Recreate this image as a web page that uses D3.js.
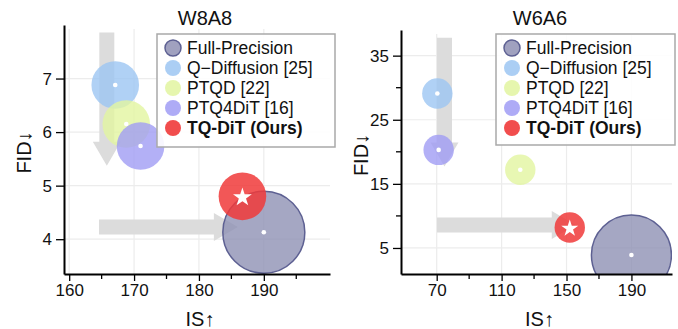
<!DOCTYPE html>
<html><head><meta charset="utf-8">
<script src="https://cdn.jsdelivr.net/npm/d3@7"></script>
<style>
html,body{margin:0;padding:0;background:#fff;}
svg{display:block;font-family:"Liberation Sans",Arial,sans-serif;}
</style></head>
<body><svg id="c" width="678" height="329"></svg>
<script>
const methods = ["Full-Precision", "Q\u2212Diffusion [25]", "PTQD [22]", "PTQ4DiT [16]", "TQ-DiT (Ours)"];
const colors = ["#8f91b4", "#9cc5f2", "#e2f5a0", "#a09cf4", "#f03a3a"];
const w8a8IS  = [190.0, 167.1, 168.8, 171.0, 186.7];
const w8a8FID = [4.13, 6.88, 6.15, 5.74, 4.80];
const w6a6IS  = [190.0, 70.4, 121.5, 71.2, 152.0];
const w6a6FID = [3.9, 29.1, 17.2, 20.3, 8.2];
const w8a8XTicks = [160, 170, 180, 190];
const w8a8XMinor = [165, 175, 185, 195];
const w8a8YTicks = [4, 5, 6, 7];
const w8a8YMinor = [];
const w6a6XTicks = [70, 110, 150, 190];
const w6a6XMinor = [90, 130, 170];
const w6a6YTicks = [5, 15, 25, 35];
const w6a6YMinor = [10, 20, 30];

const svg = d3.select("#c");

function panel(cfg) {
  const g = svg.append("g");
  const x = d3.scaleLinear().domain(cfg.xDomain).range([cfg.left, cfg.right]);
  const y = d3.scaleLinear().domain(cfg.yDomain).range([cfg.bottom, cfg.top]);
  const clipId = "clip" + cfg.id;
  svg.append("clipPath").attr("id", clipId).append("rect")
    .attr("x", cfg.left).attr("y", cfg.top).attr("width", cfg.right - cfg.left).attr("height", cfg.bottom - cfg.top);

  // grid
  g.append("g").selectAll("line.v").data(cfg.xTicks).join("line")
    .attr("x1", d => x(d)).attr("x2", d => x(d)).attr("y1", cfg.top + 4).attr("y2", cfg.bottom)
    .attr("stroke", "#ececec").attr("stroke-width", 1.2);
  g.append("g").selectAll("line.h").data(cfg.yTicks).join("line")
    .attr("y1", d => y(d)).attr("y2", d => y(d)).attr("x1", cfg.left).attr("x2", cfg.right)
    .attr("stroke", "#ececec").attr("stroke-width", 1.2);

  // arrows
  const sw = 15, hw = 28, hl = 24;
  const av = cfg.vArrow, ah = cfg.hArrow;
  const vx = x(av.x), vy0 = y(av.from), vy1 = y(av.to);
  g.append("path").attr("fill", "#dcdcdc")
    .attr("d", `M${vx - sw/2},${vy0} L${vx + sw/2},${vy0} L${vx + sw/2},${vy1 - hl} L${vx + hw/2},${vy1 - hl} L${vx},${vy1} L${vx - hw/2},${vy1 - hl} L${vx - sw/2},${vy1 - hl} Z`);
  const hy = y(ah.y), hx0 = x(ah.from), hx1 = x(ah.to);
  g.append("path").attr("fill", "#dcdcdc")
    .attr("d", `M${hx0},${hy - sw/2} L${hx1 - hl},${hy - sw/2} L${hx1 - hl},${hy - hw/2} L${hx1},${hy} L${hx1 - hl},${hy + hw/2} L${hx1 - hl},${hy + sw/2} L${hx0},${hy + sw/2} Z`);

  // circles
  const data = methods.map((m, i) => ({m, i, is: cfg.is[i], fid: cfg.fid[i]}));
  const cg = g.append("g").attr("clip-path", `url(#${clipId})`);
  cg.selectAll("circle.pt").data(data).join("circle")
    .attr("cx", d => x(d.is)).attr("cy", d => y(d.fid))
    .attr("r", d => d.i === 0 ? cfg.rFP : cfg.rQ)
    .attr("fill", d => colors[d.i])
    .attr("fill-opacity", d => d.i === 0 ? 0.8 : (d.i === 4 ? 0.85 : 0.8))
    .attr("stroke", d => d.i === 0 ? "#5d6092" : "none")
    .attr("stroke-width", 1.5);
  cg.selectAll("circle.dot").data(data.filter(d => d.i !== 4)).join("circle")
    .attr("cx", d => x(d.is)).attr("cy", d => y(d.fid)).attr("r", 2.3).attr("fill", "#fff");
  const star = d3.symbol().type(d3.symbolStar).size(cfg.starSize);
  cg.selectAll("path.star").data(data.filter(d => d.i === 4)).join("path")
    .attr("transform", d => `translate(${x(d.is)},${y(d.fid) + 1})`).attr("d", star()).attr("fill", "#fff");

  // axes
  const xa = g.append("g").attr("transform", `translate(0,${cfg.bottom})`);
  xa.call(d3.axisBottom(x).tickValues(cfg.xTicks).tickFormat(d3.format("d")).tickSize(7).tickSizeOuter(0).tickPadding(3));
  xa.append("g").selectAll("line").data(cfg.xMinor).join("line")
    .attr("x1", d => x(d)).attr("x2", d => x(d)).attr("y1", 0).attr("y2", 5).attr("stroke", "#000").attr("stroke-width", 1.3);
  const ya = g.append("g").attr("transform", `translate(${cfg.left},0)`);
  ya.call(d3.axisLeft(y).tickValues(cfg.yTicks).tickFormat(d3.format("d")).tickSize(8).tickSizeOuter(0).tickPadding(4));
  ya.append("g").selectAll("line").data(cfg.yMinor).join("line")
    .attr("y1", d => y(d)).attr("y2", d => y(d)).attr("x1", 0).attr("x2", -5).attr("stroke", "#000").attr("stroke-width", 1.3);
  [xa, ya].forEach(a => {
    a.attr("font-size", null).attr("font-family", null);
    a.select(".domain").attr("stroke", "#000").attr("stroke-width", 2);
    a.selectAll(".tick line").attr("stroke", "#000").attr("stroke-width", 1.3);
    a.selectAll(".tick text").style("font-size", "17px").attr("fill", "#111").style("font-family", "Liberation Sans, Arial, sans-serif");
  });

  // titles / labels
  g.append("text").attr("x", cfg.titleX).attr("y", 25).attr("text-anchor", "middle")
    .style("font-size", "20px").attr("fill", "#111").text(cfg.title);
  g.append("text").attr("x", (cfg.left + cfg.right) / 2 + 3).attr("y", 326).attr("text-anchor", "middle")
    .style("font-size", "20px").attr("fill", "#111").text("IS\u2191");
  g.append("text").attr("transform", `translate(${cfg.left - 33},${(cfg.top + cfg.bottom) / 2 + 3}) rotate(-90)`)
    .attr("text-anchor", "middle").style("font-size", "20px").attr("fill", "#111").text("FID\u2193");

  // legend
  const lg = g.append("g").attr("transform", `translate(${cfg.legX},${cfg.legY})`);
  lg.append("rect").attr("x", 0).attr("y", 0).attr("width", cfg.legW).attr("height", cfg.legH)
    .attr("fill", "#fff").attr("fill-opacity", 0.9).attr("stroke", "#a9a9a9").attr("stroke-width", 1.5);
  const rows = lg.selectAll("g.row").data(methods).join("g")
    .attr("transform", (d, i) => `translate(0,${14 + i * 20})`);
  rows.append("circle").attr("cx", 16).attr("cy", 0).attr("r", 8)
    .attr("fill", (d, i) => colors[i]).attr("fill-opacity", (d, i) => i === 4 ? 0.9 : 0.85)
    .attr("stroke", (d, i) => i === 0 ? "#5d6092" : "none").attr("stroke-width", 1.5);
  rows.append("text").attr("x", 30).attr("y", 6).style("font-size", "17.5px")
    .attr("font-weight", (d, i) => i === 4 ? "bold" : "normal").attr("fill", "#111").text(d => d);
}

panel({
  id: 1, title: "W8A8", titleX: 205,
  left: 64, right: 330, top: 25, bottom: 274,
  xDomain: [159.2, 200.2], yDomain: [3.35, 8.0],
  xTicks: w8a8XTicks, xMinor: w8a8XMinor, yTicks: w8a8YTicks, yMinor: w8a8YMinor,
  is: w8a8IS, fid: w8a8FID, rFP: 41, rQ: 23.8, starSize: 110,
  vArrow: {x: 165.8, from: 7.86, to: 5.37},
  hArrow: {y: 4.23, from: 164.6, to: 186.0},
  legX: 157, legY: 34, legW: 178, legH: 113
});
panel({
  id: 2, title: "W6A6", titleX: 540,
  left: 401, right: 672, top: 30, bottom: 274,
  xDomain: [48, 215], yDomain: [0.94, 39],
  xTicks: w6a6XTicks, xMinor: w6a6XMinor, yTicks: w6a6YTicks, yMinor: w6a6YMinor,
  is: w6a6IS, fid: w6a6FID, rFP: 40, rQ: 15.2, starSize: 90,
  vArrow: {x: 74.8, from: 37.8, to: 17.7},
  hArrow: {y: 8.6, from: 70.2, to: 155.7},
  legX: 496, legY: 34, legW: 179, legH: 111
});
</script></body></html>
